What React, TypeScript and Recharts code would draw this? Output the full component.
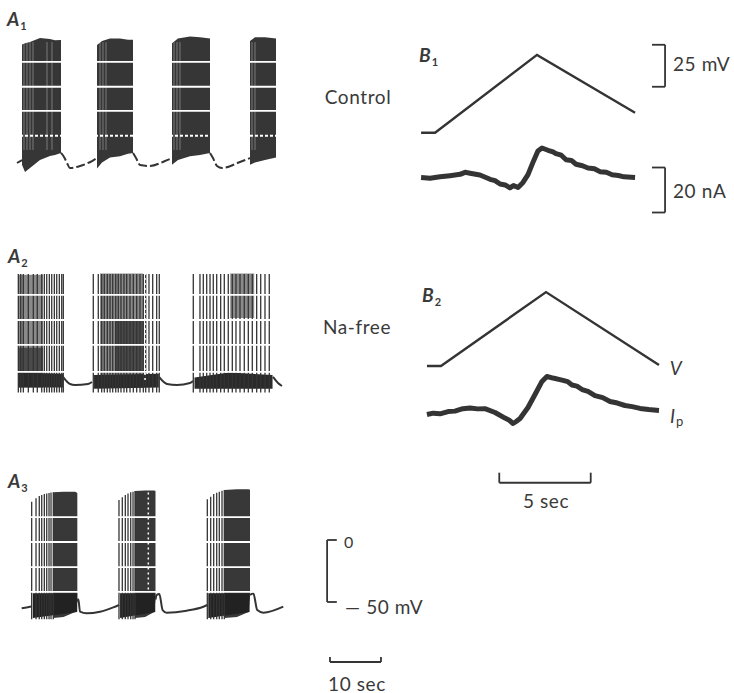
import React from 'react';
import { ComposedChart, Line, Area, XAxis, YAxis, ReferenceLine } from 'recharts';

const INK = '#343434';
const FONT = 'Lato, "Open Sans", sans-serif';

// ---- A1 : control bursting (time s, membrane potential mV)
const a1Rest = [
  [{ t: 0.39, v: -60.5 }, { t: 1.37, v: -58.1 }],
  [{ t: 9.02, v: -52.4 }, { t: 9.61, v: -55.6 }, { t: 10.2, v: -60.5 }, { t: 10.78, v: -64.5 }, { t: 12.75, v: -62.9 }, { t: 15.1, v: -58.9 }, { t: 16.08, v: -56.5 }],
  [{ t: 23.14, v: -52.4 }, { t: 23.73, v: -56.5 }, { t: 24.51, v: -62.1 }, { t: 26.47, v: -62.9 }, { t: 29.41, v: -58.9 }, { t: 30.78, v: -56.5 }],
  [{ t: 38.24, v: -52.4 }, { t: 38.82, v: -56.5 }, { t: 39.61, v: -62.9 }, { t: 40.59, v: -64.5 }, { t: 44.12, v: -59.7 }, { t: 46.08, v: -56.5 }],
];
const a1Bursts = [
  [{ t: 1.37, r: [-62, 35] }, { t: 1.96, r: [-67.7, 36] }, { t: 2.94, r: [-64.5, 37] }, { t: 4.9, r: [-58, 40.3] }, { t: 6.86, r: [-54.8, 39.5] }, { t: 7.84, r: [-54, 38.5] }, { t: 9.02, r: [-52.4, 38.7] }],
  [{ t: 16.08, r: [-65, 34.7] }, { t: 17.06, r: [-60, 38] }, { t: 18.63, r: [-56, 40] }, { t: 20.59, r: [-55, 40] }, { t: 22.16, r: [-53, 39] }, { t: 23.14, r: [-52.4, 39] }],
  [{ t: 30.78, r: [-62, 36] }, { t: 31.96, r: [-58, 40] }, { t: 34.31, r: [-55, 41.5] }, { t: 36.27, r: [-54, 41] }, { t: 38.24, r: [-52.4, 40] }],
  [{ t: 46.08, r: [-62, 38] }, { t: 47.06, r: [-60, 41] }, { t: 49.02, r: [-58, 41] }, { t: 51.18, r: [-56, 40] }],
];
const a1Gaps = [1.76, 2.35, 2.94, 3.53, 6.27, 7.25, 16.67, 17.25, 17.84, 31.18, 31.76, 32.35, 46.47, 47.06];
const a1Grid = [21, 1, -18.5, -38.5];

// ---- A2 : Na-free
const a2Rest = [
  [{ t: 9.41, v: -43.5 }, { t: 10.78, v: -49.2 }, { t: 11.76, v: -50 }, { t: 14.31, v: -49.2 }, { t: 15.1, v: -47.6 }],
  [{ t: 28.24, v: -43.5 }, { t: 29.8, v: -49.2 }, { t: 31.76, v: -50 }, { t: 34.31, v: -48.4 }, { t: 34.9, v: -46.8 }],
  [{ t: 50.59, v: -43.5 }, { t: 51.57, v: -48.4 }, { t: 52.35, v: -50.8 }],
];
const a2Shade = [
  [{ t: 0.6, r: [-52, 39] }, { t: 5.5, r: [-52, 39] }],
  [{ t: 16.67, r: [-52, 40] }, { t: 25.1, r: [-52, 40] }],
  [{ t: 42.2, r: [4, 40] }, { t: 46.9, r: [4, 40] }],
];
const a2Dark = [
  [{ t: 0.6, r: [-40, -20] }, { t: 5.5, r: [-40, -20] }],
  [{ t: 19.6, r: [-40, 2] }, { t: 25.1, r: [-40, 2] }],
];
const a2Band = [
  [{ t: 0.6, r: [-52, -40] }, { t: 9.4, r: [-52, -41] }],
  [{ t: 15.5, r: [-53, -42] }, { t: 28.2, r: [-52, -41] }],
  [{ t: 35.2, r: [-53, -44] }, { t: 42, r: [-53, -40] }, { t: 50.5, r: [-53, -42] }],
];
const a2SpikeTimes = [
  0.65, 1.12, 1.63, 2.61, 3.59, 4.37, 5.24, 5.75, 6.22, 6.73, 7.2, 7.71, 8.18, 8.69, 9.16, 9.47,
  15.35, 16.33, 17.0, 17.51, 18.1, 18.63, 19.16, 19.75, 20.25, 20.78, 21.37, 21.9, 22.55, 23.2, 23.86, 24.51, 25.16, 25.63, 26.27, 27.0, 27.78, 28.29,
  34.96, 36.27, 36.92, 37.59, 38.24, 38.88, 39.55, 40.33, 41.04, 41.82, 42.61, 43.33, 44.12, 44.96, 45.75, 46.53, 47.39, 48.18, 49.02, 49.86,
];
const a2Grid = [22.6, 2.4, -17.7, -39.5];

// ---- A3 : recovery
const a3Rest = [
  [{ t: 1.31, v: -55 }, { t: 2.94, v: -53.8 }, { t: 3.27, v: -53.5 }],
  [{ t: 12.22, v: -49.7 }, { t: 12.42, v: -47.8 }, { t: 12.75, v: -57.8 }, { t: 14.05, v: -59.1 }, { t: 16.67, v: -57.8 }, { t: 19.27, v: -54.3 }, { t: 20.39, v: -52.4 }],
  [{ t: 27.55, v: -48 }, { t: 27.78, v: -44.4 }, { t: 28.3, v: -43.5 }, { t: 28.95, v: -56.5 }, { t: 29.74, v: -58.6 }, { t: 33.66, v: -57 }, { t: 36.93, v: -53.8 }, { t: 37.71, v: -52.4 }],
  [{ t: 46.08, v: -44.4 }, { t: 46.73, v: -43 }, { t: 47.5, v: -56.5 }, { t: 48.7, v: -58.6 }, { t: 52.6, v: -53.8 }],
];
const a3Dense = [
  [{ t: 7.51, r: [-63, 38.5] }, { t: 9.5, r: [-62, 39] }, { t: 11.8, r: [-58, 39] }, { t: 12.22, r: [-50, 38] }],
  [{ t: 23.53, r: [-63, 39.5] }, { t: 25.5, r: [-62, 40] }, { t: 27.3, r: [-58, 40] }, { t: 27.55, r: [-48, 39.5] }],
  [{ t: 41.04, r: [-63, 40.3] }, { t: 43.5, r: [-62, 41] }, { t: 45.8, r: [-58, 41] }, { t: 46.08, r: [-46, 40.5] }],
];
const a3Band = [
  [{ t: 3.5, r: [-63, -43] }, { t: 12.2, r: [-58, -43] }],
  [{ t: 20.6, r: [-63, -43] }, { t: 27.5, r: [-58, -43] }],
  [{ t: 37.9, r: [-63, -43] }, { t: 46.0, r: [-58, -43] }],
];
const a3SpikeTimes = [3.27, 4.12, 4.76, 5.24, 5.75, 6.22, 6.67, 7.06, 7.51, 20.39, 21.04, 21.63, 22.16, 22.69, 23.14, 23.53, 37.71, 38.37, 38.96, 39.55, 40.06, 40.59, 41.04];
const a3SpikePeaks = [30.9, 33.6, 35.5, 36.3, 37.1, 37.6, 38, 38.3, 38.5, 32.3, 34.4, 36.3, 37.6, 38.5, 39, 39.5, 32.8, 34.9, 37.1, 38.1, 39, 39.8, 40.3];
const a3Grid = [18.5, -1.6, -21.8, -41.9];

// ---- B : voltage ramps (mV) and current (nA)
const b1Volt = [{ t: 0.33, v: -60 }, { t: 1.09, v: -60 }, { t: 6.63, v: -13.6 }, { t: 11.96, v: -48.1 }];
const b1Curr = [
  { t: 0.33, v: 0 }, { t: 0.82, v: -0.3 }, { t: 1.36, v: 0.3 }, { t: 1.9, v: 0.8 }, { t: 2.45, v: 1.4 }, { t: 2.72, v: 2.3 }, { t: 2.99, v: 1.9 },
  { t: 3.53, v: 1.1 }, { t: 4.08, v: -0.8 }, { t: 4.35, v: -1.4 }, { t: 4.62, v: -2.9 }, { t: 4.9, v: -3.3 }, { t: 5.16, v: -4.6 }, { t: 5.35, v: -3.6 }, { t: 5.6, v: -4.4 }, { t: 5.87, v: -2.2 },
  { t: 6.14, v: 1.3 }, { t: 6.41, v: 6.7 }, { t: 6.68, v: 11.8 }, { t: 6.9, v: 13.1 }, { t: 7.23, v: 12.1 }, { t: 7.5, v: 11.4 }, { t: 7.66, v: 10.6 },
  { t: 7.95, v: 9.9 }, { t: 8.21, v: 7.9 }, { t: 8.5, v: 7.6 }, { t: 8.75, v: 5.9 }, { t: 9.1, v: 5.2 }, { t: 9.4, v: 4.2 }, { t: 9.75, v: 3.9 }, { t: 10.05, v: 2.6 },
  { t: 10.4, v: 2.3 }, { t: 10.71, v: 1.2 }, { t: 11.05, v: 0.9 }, { t: 11.36, v: 0.3 }, { t: 11.96, v: 0 },
];
const b2Volt = [{ t: 0.65, v: -60 }, { t: 1.41, v: -60 }, { t: 7.12, v: -16 }, { t: 13.26, v: -59.4 }];
const b2Curr = [
  { t: 0.65, v: 0 }, { t: 1.0, v: 0.6 }, { t: 1.36, v: 0.3 }, { t: 1.8, v: 1.3 }, { t: 2.17, v: 1.5 }, { t: 2.6, v: 2.6 }, { t: 2.99, v: 2.9 }, { t: 3.4, v: 2.5 }, { t: 3.8, v: 2.6 }, { t: 4.35, v: 0.9 },
  { t: 4.89, v: -1.6 }, { t: 5.1, v: -2.4 }, { t: 5.33, v: -4 }, { t: 5.5, v: -3.1 }, { t: 5.71, v: -1.8 }, { t: 6.14, v: 3.1 }, { t: 6.58, v: 9.8 }, { t: 6.9, v: 14.7 },
  { t: 7.17, v: 16.9 }, { t: 7.5, v: 16.2 }, { t: 7.99, v: 15.3 }, { t: 8.3, v: 14.6 }, { t: 8.53, v: 13.1 }, { t: 8.8, v: 12.6 }, { t: 9.08, v: 11.1 }, { t: 9.4, v: 10.3 }, { t: 9.78, v: 8.4 },
  { t: 10.2, v: 7.5 }, { t: 10.6, v: 5.8 }, { t: 11.0, v: 5.1 }, { t: 11.41, v: 4 }, { t: 11.8, v: 3.5 }, { t: 12.23, v: 2.7 }, { t: 12.7, v: 2.2 }, { t: 13.26, v: 1.8 },
];

function Trace({ left, top, width, height, xMax, yDomain, children }: any) {
  return (
    <div style={{ position: 'absolute', left, top, width, height }}>
      <ComposedChart width={width} height={height} margin={{ top: 0, right: 0, bottom: 0, left: 0 }}>
        <XAxis type="number" dataKey="t" domain={[0, xMax]} hide allowDataOverflow />
        <YAxis type="number" domain={yDomain} hide allowDataOverflow />
        {children}
      </ComposedChart>
    </div>
  );
}

const rest = (segs: any[], dash?: string) =>
  segs.map((d, i) => (
    <Line key={'r' + i} data={d} dataKey="v" type="monotone" stroke={INK} strokeWidth={2}
      strokeDasharray={dash} dot={false} activeDot={false} isAnimationActive={false} />
  ));

const fills = (segs: any[], color: string, key: string) =>
  segs.map((d, i) => (
    <Area key={key + i} data={d} dataKey="r" type="linear" fill={color} fillOpacity={1}
      stroke="none" dot={false} activeDot={false} isAnimationActive={false} />
  ));

const vline = (t: number, lo: number, hi: number, color: string, w: number, key: string, dash?: string) => (
  <ReferenceLine key={key} segment={[{ x: t, y: lo }, { x: t, y: hi }]} stroke={color}
    strokeWidth={w} strokeDasharray={dash} ifOverflow="visible" />
);

const hline = (y: number, x0: number, x1: number, color: string, w: number, key: string, dash?: string) => (
  <ReferenceLine key={key} segment={[{ x: x0, y }, { x: x1, y }]} stroke={color}
    strokeWidth={w} strokeDasharray={dash} ifOverflow="visible" />
);

function Txt({ x, y, size = 19, center = true, italic = false, children }: any) {
  return (
    <div style={{
      position: 'absolute', left: x, top: y, transform: `translate(${center ? '-50%' : '0'}, -50%)`,
      fontSize: size, fontFamily: FONT, color: '#3a3a3a', whiteSpace: 'nowrap', lineHeight: 1,
      fontStyle: italic ? 'italic' : 'normal', letterSpacing: 0.6,
    }}>{children}</div>
  );
}

function Tag({ x, y, letter, n }: any) {
  return (
    <div style={{ position: 'absolute', left: x, top: y, fontFamily: FONT, fontStyle: 'italic', fontWeight: 700,
      fontSize: 19, color: '#3a3a3a', lineHeight: 1 }}>
      {letter}<span style={{ fontSize: 11, position: 'relative', top: 4, left: 1, fontStyle: 'normal' }}>{n}</span>
    </div>
  );
}

export default function App() {
  const aW = 272;
  const aMax = aW / 5.1;
  const aH = 130 * 1.24;
  return (
    <div style={{ position: 'absolute', left: 0, top: 0, width: 734, height: 693, background: '#fff', overflow: 'hidden' }}>
      {/* A1 */}
      <Trace left={15} top={26} width={aW} height={aH} xMax={aMax} yDomain={[-80, 50]}>
        {fills(a1Bursts, '#363636', 'b')}
        {rest(a1Rest, '9 3')}
        {a1Gaps.map((t, i) => vline(t, -50, 37, 'rgba(255,255,255,0.35)', 1, 'g' + i))}
        {a1Grid.map((y, i) => hline(y, 0, 53, '#fff', 1.8, 'w' + i, i === 3 ? '3 2' : undefined))}
      </Trace>
      {/* A2 */}
      <Trace left={15} top={261} width={aW} height={aH} xMax={aMax} yDomain={[-80, 50]}>
        {fills(a2Shade, '#8a8a8a', 's')}
        {fills(a2Dark, '#4a4a4a', 'd')}
        {fills(a2Band, '#2a2a2a', 'b')}
        {rest(a2Rest)}
        {a2SpikeTimes.map((t, i) => vline(t, -56, 39.5, INK, 1.3, 'k' + i))}
        {vline(25.5, -46, 40, '#fff', 1.5, 'm', '2 3')}
        {a2Grid.map((y, i) => hline(y, 0, 53, '#fff', 1.8, 'w' + i))}
      </Trace>
      {/* A3 with calibration */}
      <Trace left={15} top={478} width={400} height={170 * 1.24} xMax={400 / 5.1} yDomain={[-120, 50]}>
        {fills(a3Dense, '#383838', 'c')}
        {fills(a3Band, '#222', 'b')}
        {rest(a3Rest)}
        {a3SpikeTimes.map((t, i) => vline(t, -64, a3SpikePeaks[i], INK, 1.3, 'k' + i))}
        {vline(26.14, -40, 40, '#fff', 1.5, 'm', '2 3')}
        {a3Grid.map((y, i) => hline(y, 0, 53, '#fff', 1.8, 'w' + i))}
        {vline(61.2, -50, 0, INK, 1.8, 'sv')}
        {hline(0, 61.2, 63.1, INK, 1.8, 'sv0')}
        {hline(-50, 61.2, 63.1, INK, 1.8, 'sv1')}
        {hline(-98.4, 61.76, 71.76, INK, 1.8, 'st')}
        {vline(61.76, -98.4, -94.4, INK, 1.8, 'st0')}
        {vline(71.76, -98.4, -94.4, INK, 1.8, 'st1')}
      </Trace>
      {/* B1 */}
      <Trace left={415} top={32.2} width={255} height={70 * 1.68} xMax={255 / 18.4} yDomain={[-70, 0]}>
        <Line data={b1Volt} dataKey="v" type="linear" stroke={INK} strokeWidth={2.4} dot={false} activeDot={false} isAnimationActive={false} />
        {vline(13.59, -32.6, -7.6, INK, 1.8, 'sb')}
        {hline(-7.6, 12.88, 13.59, INK, 1.8, 'sb0')}
        {hline(-32.6, 12.88, 13.59, INK, 1.8, 'sb1')}
      </Trace>
      <Trace left={415} top={109.5} width={255} height={50 * 2.25} xMax={255 / 18.4} yDomain={[-20, 30]}>
        <Line data={b1Curr} dataKey="v" type="linear" stroke={INK} strokeWidth={5} strokeLinejoin="round" dot={false} activeDot={false} isAnimationActive={false} />
        {vline(13.59, -15.56, 4.44, INK, 1.8, 'sc')}
        {hline(4.44, 12.88, 13.59, INK, 1.8, 'sc0')}
        {hline(-15.56, 12.88, 13.59, INK, 1.8, 'sc1')}
      </Trace>
      {/* B2 */}
      <Trace left={415} top={282} width={255} height={125 * 1.68} xMax={255 / 18.4} yDomain={[-135, -10]}>
        <Line data={b2Volt} dataKey="v" type="linear" stroke={INK} strokeWidth={2.4} dot={false} activeDot={false} isAnimationActive={false} />
        {hline(-129.5, 4.58, 9.55, INK, 1.8, 'ss')}
        {vline(4.58, -129.5, -123.5, INK, 1.8, 'ss0')}
        {vline(9.55, -129.5, -123.5, INK, 1.8, 'ss1')}
      </Trace>
      <Trace left={415} top={346.5} width={255} height={50 * 2.25} xMax={255 / 18.4} yDomain={[-20, 30]}>
        <Line data={b2Curr} dataKey="v" type="linear" stroke={INK} strokeWidth={5} strokeLinejoin="round" dot={false} activeDot={false} isAnimationActive={false} />
      </Trace>

      {/* labels */}
      <Tag x={7} y={9} letter="A" n="1" />
      <Tag x={8} y={246} letter="A" n="2" />
      <Tag x={8} y={471} letter="A" n="3" />
      <Tag x={419} y={45} letter="B" n="1" />
      <Tag x={422} y={285} letter="B" n="2" />
      <Txt x={358} y={96}>Control</Txt>
      <Txt x={357} y={326}>Na-free</Txt>
      <Txt x={673} y={63} center={false}>25 mV</Txt>
      <Txt x={673} y={190} center={false}>20 nA</Txt>
      <Txt x={676} y={367} italic>V</Txt>
      <div style={{ position: 'absolute', left: 670, top: 406, fontFamily: FONT, fontSize: 19, color: '#3a3a3a', lineHeight: 1 }}>
        <i>I</i><span style={{ fontSize: 13, position: 'relative', top: 3, left: 1 }}>p</span>
      </div>
      <Txt x={546} y={500}>5 sec</Txt>
      <Txt x={349} y={542} size={16}>0</Txt>
      <Txt x={345} y={606} center={false}>{'\u2014 50 mV'}</Txt>
      <Txt x={357} y={683}>10 sec</Txt>
    </div>
  );
}
